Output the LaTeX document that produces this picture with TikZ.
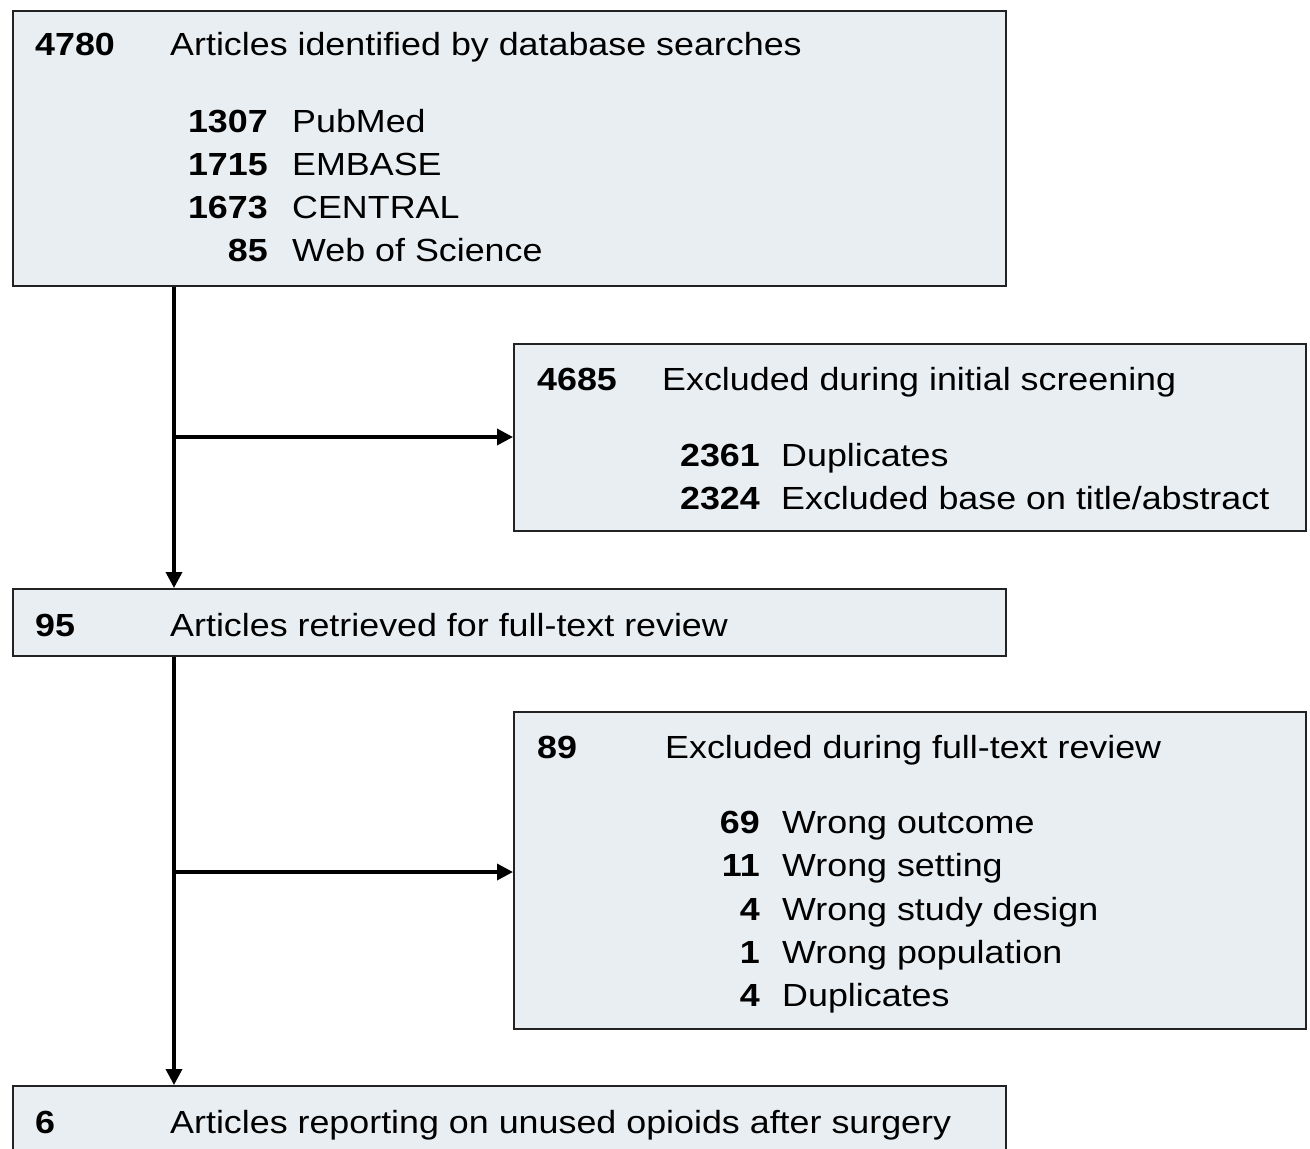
\documentclass[tikz,border=0pt]{standalone}
\usepackage{fontspec}
\setmainfont{Liberation Sans}[FakeStretch=1.12]
\usetikzlibrary{arrows.meta}
\definecolor{boxfill}{HTML}{E9EEF2}
\definecolor{boxline}{HTML}{222222}
\tikzset{
  box/.style={draw=boxline, line width=2.2pt, fill=boxfill, rectangle, inner sep=0pt, anchor=north west},
  txt/.style={inner sep=0pt, font=\fontsize{32}{38}\selectfont, text=black},
  num/.style={txt, font=\fontsize{32}{38}\selectfont\bfseries},
  arr/.style={line width=3.5pt, black, -{Triangle[length=16pt,width=16pt]}},
}
\begin{document}
\begin{tikzpicture}[x=1pt,y=-1pt]
\useasboundingbox (0,0) rectangle (1310,1149);
\clip (0,0) rectangle (1310,1149);
% boxes
\node[box, minimum width=993pt, minimum height=275pt] (b1) at (12,10) {};
\node[box, minimum width=792pt, minimum height=187pt] (e1) at (513,343) {};
\node[box, minimum width=993pt, minimum height=67pt] (b2) at (12,588) {};
\node[box, minimum width=792pt, minimum height=317pt] (e2) at (513,711) {};
\node[box, minimum width=993pt, minimum height=100pt] (b3) at (12,1085) {};
% box 1 text
\node[num, anchor=base west] (t1n) at (35,55) {4780};
\node[txt, anchor=base west] (t1t) at (170,55) {Articles identified by database searches};
\node[num, anchor=base east] (s1n) at (268,132) {1307};
\node[txt, anchor=base west] (s1t) at (292,132) {PubMed};
\node[num, anchor=base east] (s2n) at (268,175) {1715};
\node[txt, anchor=base west] (s2t) at (292,175) {EMBASE};
\node[num, anchor=base east] (s3n) at (268,218) {1673};
\node[txt, anchor=base west] (s3t) at (292,218) {CENTRAL};
\node[num, anchor=base east] (s4n) at (268,261) {85};
\node[txt, anchor=base west] (s4t) at (292,261) {Web of Science};
% excluded 1
\node[num, anchor=base west] (e1n) at (537,390) {4685};
\node[txt, anchor=base west] (e1t) at (662,390) {Excluded during initial screening};
\node[num, anchor=base east] (x1n) at (760,466) {2361};
\node[txt, anchor=base west] (x1t) at (781,466) {Duplicates};
\node[num, anchor=base east] (x2n) at (760,509) {2324};
\node[txt, anchor=base west] (x2t) at (781,509) {Excluded base on title/abstract};
% box 2
\node[num, anchor=base west] (t2n) at (35,636) {95};
\node[txt, anchor=base west] (t2t) at (170,636) {Articles retrieved for full-text review};
% excluded 2
\node[num, anchor=base west] (e2n) at (537,758) {89};
\node[txt, anchor=base west] (e2t) at (665,758) {Excluded during full-text review};
\node[num, anchor=base east] (y1n) at (760,833) {69};
\node[txt, anchor=base west] (y1t) at (782,833) {Wrong outcome};
\node[num, anchor=base east] (y2n) at (760,876) {11};
\node[txt, anchor=base west] (y2t) at (782,876) {Wrong setting};
\node[num, anchor=base east] (y3n) at (760,920) {4};
\node[txt, anchor=base west] (y3t) at (782,920) {Wrong study design};
\node[num, anchor=base east] (y4n) at (760,963) {1};
\node[txt, anchor=base west] (y4t) at (782,963) {Wrong population};
\node[num, anchor=base east] (y5n) at (760,1006) {4};
\node[txt, anchor=base west] (y5t) at (782,1006) {Duplicates};
% box 3
\node[num, anchor=base west] (t3n) at (35,1133) {6};
\node[txt, anchor=base west] (t3t) at (170,1133) {Articles reporting on unused opioids after surgery};
% connectors
\coordinate (j1) at (174,437);
\coordinate (j2) at (174,872);
\draw[arr] (b1.south -| j1) -- (b2.north -| j1);
\draw[arr] (j1) -- (e1.west |- j1);
\draw[arr] (b2.south -| j2) -- (b3.north -| j2);
\draw[arr] (j2) -- (e2.west |- j2);
\end{tikzpicture}
\end{document}
